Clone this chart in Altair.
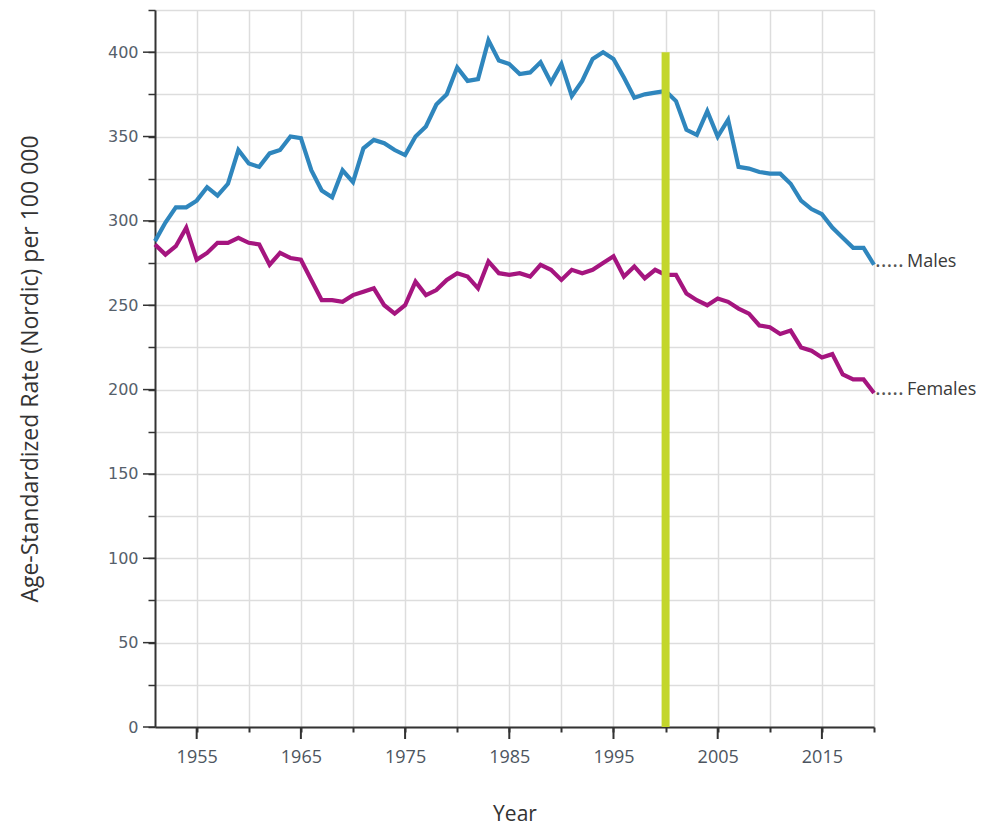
import altair as alt
import pandas as pd

years = list(range(1951, 2021))
males = [288, 299, 308, 308, 312, 320, 315, 322, 342, 334,
         332, 340, 342, 350, 349, 330, 318, 314, 330, 323,
         343, 348, 346, 342, 339, 350, 356, 369, 375, 391,
         383, 384, 407, 395, 393, 387, 388, 394, 382, 393,
         374, 383, 396, 400, 396, 385, 373, 375, 376, 377,
         371, 354, 351, 365, 350, 360, 332, 331, 329, 328,
         328, 322, 312, 307, 304, 296, 290, 284, 284, 274]
females = [286, 280, 285, 296, 277, 281, 287, 287, 290, 287,
           286, 274, 281, 278, 277, 265, 253, 253, 252, 256,
           258, 260, 250, 245, 250, 264, 256, 259, 265, 269,
           267, 260, 276, 269, 268, 269, 267, 274, 271, 265,
           271, 269, 271, 275, 279, 267, 273, 266, 271, 268,
           268, 257, 253, 250, 254, 252, 248, 245, 238, 237,
           233, 235, 225, 223, 219, 221, 209, 206, 206, 198]
series_names = ["Males", "Females"]
series_colors = ["#2f86bd", "#a5157f"]
marker_year = [2000]
marker_top = [400]
y_major = list(range(0, 401, 50))
x_major = list(range(1955, 2016, 10))

rows = []
for name, vals in zip(series_names, [males, females]):
    for yr, v in zip(years, vals):
        rows.append({"Year": yr, "Rate": v, "Sex": name})
df = pd.DataFrame(rows)

xscale = alt.Scale(domain=[1951, 2020], nice=False, zero=False)
yscale = alt.Scale(domain=[0, 425], nice=False)
color = alt.Color("Sex:N", scale=alt.Scale(domain=series_names, range=series_colors), legend=None)

x_axis = alt.Axis(
    values=list(range(1955, 2021, 5)), format="d",
    labelExpr="(datum.value - 1955) % 10 == 0 ? datum.label : ''",
    tickSize=5, tickWidth=2, tickColor="#333333",
    domainColor="#333333", domainWidth=2,
    gridColor="#dddddd", gridWidth=1.5,
    labelFont="Open Sans", labelFontSize=18, labelColor="#4d5560", labelPadding=16,
    title="Year", titleFont="Open Sans", titleFontSize=21, titleFontWeight="normal",
    titleColor="#333333", titleY=87, titleBaseline="middle",
)
y_axis = alt.Axis(
    values=list(range(0, 426, 25)),
    labelExpr="datum.value % 50 == 0 && datum.value <= 400 ? datum.label : ''",
    tickSize=7, tickWidth=1.5, tickColor="#333333",
    domainColor="#333333", domainWidth=2,
    gridColor="#dddddd", gridWidth=1.5,
    labelFont="DejaVu Sans", labelFontSize=16, labelColor="#55606b", labelPadding=10,
    title="Age-Standardized Rate (Nordic) per 100 000", titleFont="Open Sans",
    titleFontSize=23, titleFontWeight="normal", titleColor="#333333",
    titleX=-125, titleBaseline="middle",
)

lines = alt.Chart(df).mark_line(strokeWidth=4.2, strokeJoin="miter").encode(
    x=alt.X("Year:Q", scale=xscale, axis=x_axis),
    y=alt.Y("Rate:Q", scale=yscale, axis=y_axis),
    color=color,
)

major_y = alt.Chart(pd.DataFrame({"v": y_major})).mark_rule(color="#333333", strokeWidth=1.5).encode(
    y=alt.Y("v:Q", scale=yscale), x=alt.value(-12), x2=alt.value(0)
)
major_x = alt.Chart(pd.DataFrame({"yr": x_major})).mark_rule(color="#333333", strokeWidth=2).encode(
    x=alt.X("yr:Q", scale=xscale), y=alt.value(717), y2=alt.value(729)
)

marker = alt.Chart(pd.DataFrame({"Year": marker_year, "top": marker_top, "bottom": [0]})).mark_rule(
    color="#c3d62c", strokeWidth=8
).encode(
    x=alt.X("Year:Q", scale=xscale),
    y=alt.Y("bottom:Q", scale=yscale),
    y2="top:Q",
)

labels_df = pd.DataFrame({
    "Year": [2020, 2020],
    "Rate": [males[-1], females[-1]],
    "label": series_names,
    "dots": [".....", "....."],
})
dots = alt.Chart(labels_df).mark_text(
    align="left", baseline="alphabetic", dx=1, dy=2, font="Open Sans", fontSize=22, color="#555555"
).encode(
    x=alt.X("Year:Q", scale=xscale),
    y=alt.Y("Rate:Q", scale=yscale),
    text="dots:N",
)
labels = alt.Chart(labels_df).mark_text(
    align="left", baseline="alphabetic", dx=33, dy=2, font="Open Sans", fontSize=18, color="#3a3a3a"
).encode(
    x=alt.X("Year:Q", scale=xscale),
    y=alt.Y("Rate:Q", scale=yscale),
    text="label:N",
)

chart = alt.layer(lines, major_y, major_x, marker, dots, labels).properties(
    width=719, height=717,
    autosize=alt.AutoSizeParams(type="none"),
    padding={"left": 147, "top": 2, "right": 102, "bottom": 98},
).configure_view(stroke=None).configure(background="white")

chart.save("out.html", embed_options={"renderer": "svg", "actions": False})
